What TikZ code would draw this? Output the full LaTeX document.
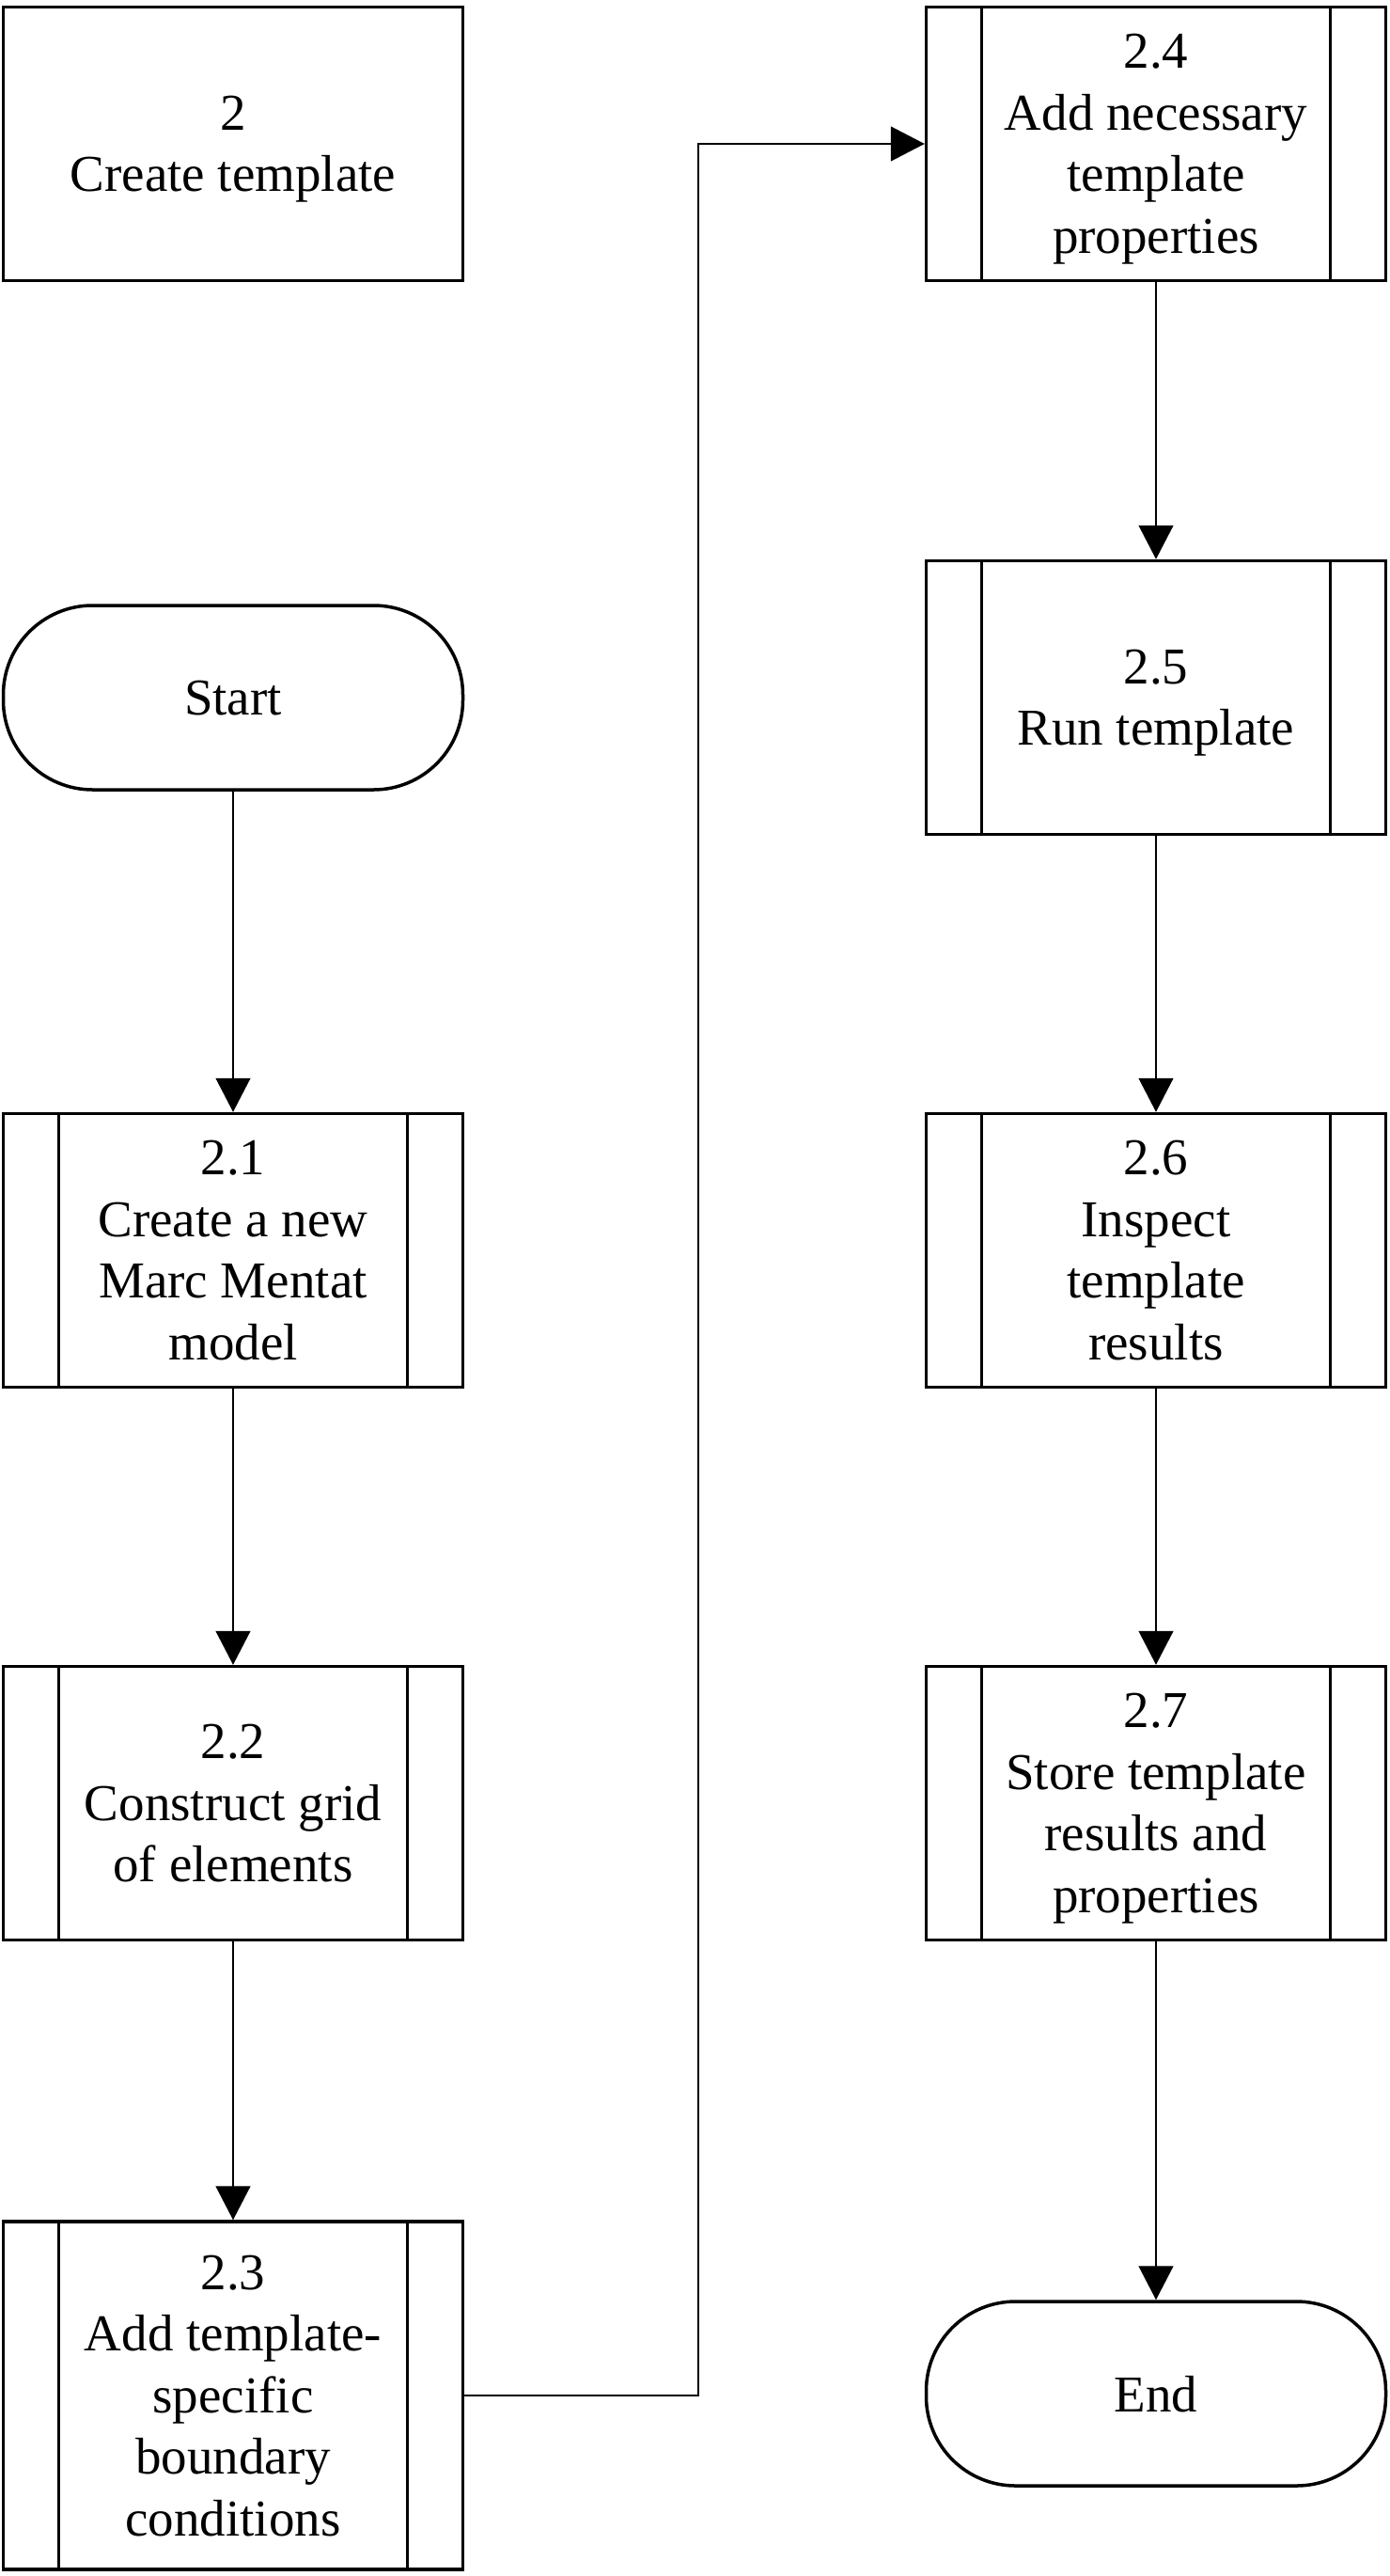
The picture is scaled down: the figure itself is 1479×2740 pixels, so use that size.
\documentclass[tikz,border=0pt]{standalone}
\usepackage{fontspec}
\setmainfont{Liberation Serif}
\usetikzlibrary{arrows.meta}
\begin{document}
\begin{tikzpicture}[x=1pt,y=-1pt,
  every node/.style={font=\fontsize{55}{65.5}\selectfont, align=center, inner sep=0pt, text depth=0pt},
  box/.style={draw, line width=3.5pt, minimum width=489pt, minimum height=291pt},
  proc/.style={box, path picture={
      \draw[line width=3.5pt] ([xshift=59pt]path picture bounding box.north west) -- ([xshift=59pt]path picture bounding box.south west);
      \draw[line width=3.5pt] ([xshift=-59pt]path picture bounding box.north east) -- ([xshift=-59pt]path picture bounding box.south east);}},
  term/.style={draw, line width=3.5pt, rounded corners=95pt, minimum width=489pt, minimum height=196pt},
  conn/.style={line width=1.3pt, -{Triangle[length=36pt,width=37pt]}}]
\useasboundingbox (0,0) rectangle (1479,2740);
\fill[white] (0,0) rectangle (1479,2740);

\node[box] (b2) at (248,153) {2\\Create template};
\node[term] (start) at (248,742) {Start};
\node[proc] (b21) at (248,1330) {2.1\\Create a new\\Marc Mentat\\model};
\node[proc] (b22) at (248,1918) {2.2\\Construct grid\\of elements};
\node[proc, minimum height=370pt] (b23) at (248,2548) {2.3\\Add template-\\specific\\boundary\\conditions};

\node[proc] (b24) at (1230,153) {2.4\\Add necessary\\template\\properties};
\node[proc] (b25) at (1230,742) {2.5\\Run template};
\node[proc] (b26) at (1230,1330) {2.6\\Inspect\\template\\results};
\node[proc] (b27) at (1230,1918) {2.7\\Store template\\results and\\properties};
\node[term] (end) at (1230,2546) {End};

\coordinate (j2) at (743,153);

\draw[conn] (start) -- (b21);
\draw[conn] (b21) -- (b22);
\draw[conn] (b22) -- (b23);
\draw[conn] (b23.east) -| (j2) -- (b24.west);
\draw[conn] (b24) -- (b25);
\draw[conn] (b25) -- (b26);
\draw[conn] (b26) -- (b27);
\draw[conn] (b27) -- (end);
\end{tikzpicture}
\end{document}
